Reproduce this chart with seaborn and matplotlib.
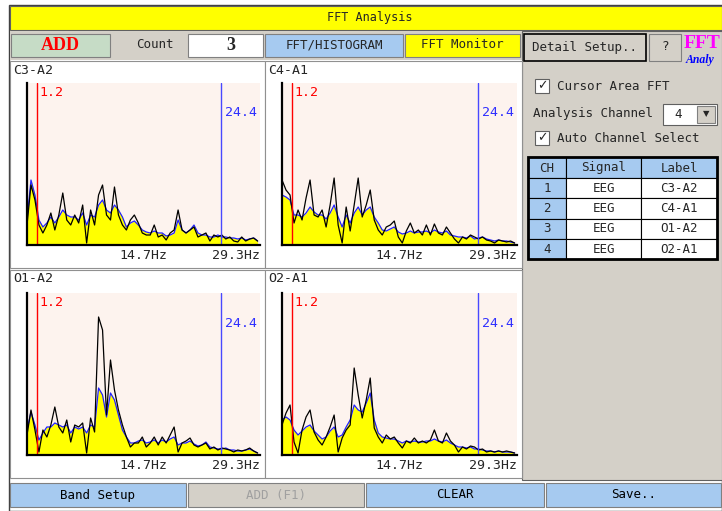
import numpy as np
import matplotlib.pyplot as plt
import seaborn as sns
from matplotlib.patches import Rectangle

# Frequency bins (Hz) shared by every spectrum
freq = np.arange(0, 29.01, 0.5)

# Spectrum heights (screen units, 0-162): current (black) and average (blue)
c3_black = [20, 60, 45, 20, 12, 20, 32, 15, 30, 52, 25, 20, 30, 22, 40, 2, 35, 20, 50, 60,
            30, 25, 58, 30, 20, 15, 25, 30, 22, 12, 10, 10, 20, 8, 10, 5, 12, 15, 35, 15,
            12, 15, 18, 8, 10, 12, 4, 10, 8, 10, 6, 8, 4, 3, 8, 4, 6, 7, 4]
c3_blue = [25, 65, 50, 25, 18, 22, 28, 22, 28, 35, 30, 28, 28, 25, 32, 20, 30, 28, 40, 45,
           35, 32, 40, 35, 28, 18, 22, 24, 20, 15, 13, 12, 14, 12, 12, 9, 10, 12, 25, 15,
           12, 15, 20, 12, 10, 10, 8, 8, 10, 8, 8, 7, 7, 6, 7, 5, 6, 7, 4]
c4_black = [65, 55, 50, 22, 35, 25, 47, 65, 30, 28, 35, 18, 40, 67, 20, 2, 38, 14, 40, 67,
            28, 40, 55, 25, 15, 10, 18, 20, 24, 8, 2, 14, 22, 12, 15, 10, 20, 10, 21, 12,
            10, 18, 12, 6, 2, 8, 6, 10, 8, 6, 8, 5, 4, 2, 5, 4, 3, 4, 2]
c4_blue = [50, 48, 45, 30, 30, 28, 32, 38, 33, 30, 30, 26, 32, 40, 28, 18, 30, 22, 32, 38,
           30, 35, 38, 28, 22, 15, 14, 16, 18, 13, 11, 12, 14, 12, 13, 13, 14, 12, 15, 13,
           12, 14, 10, 9, 8, 8, 7, 9, 6, 7, 8, 6, 5, 4, 5, 4, 4, 3, 2]
o1_black = [20, 45, 25, 3, 25, 18, 30, 48, 28, 22, 35, 13, 30, 28, 32, 2, 37, 23, 138, 125,
            40, 95, 65, 45, 30, 18, 8, 12, 12, 18, 8, 12, 18, 10, 18, 12, 20, 28, 3, 12,
            14, 17, 10, 8, 10, 12, 6, 8, 5, 7, 6, 5, 3, 5, 4, 5, 7, 4, 2]
o1_blue = [25, 43, 30, 15, 22, 28, 28, 32, 30, 28, 30, 22, 28, 26, 28, 22, 30, 28, 67, 60,
           38, 62, 55, 40, 25, 18, 12, 12, 14, 15, 12, 13, 15, 12, 15, 13, 16, 18, 10, 12,
           12, 14, 11, 9, 10, 13, 8, 7, 6, 6, 7, 5, 5, 4, 4, 5, 6, 4, 2]
o2_black = [30, 42, 50, 13, 2, 25, 38, 45, 23, 15, 10, 18, 28, 40, 3, 17, 25, 30, 87, 60,
            37, 55, 77, 27, 18, 12, 20, 16, 18, 12, 7, 14, 12, 17, 12, 14, 12, 15, 25, 14,
            12, 22, 14, 10, 3, 8, 6, 9, 8, 5, 6, 3, 4, 3, 4, 3, 4, 3, 2]
o2_blue = [35, 38, 35, 25, 20, 24, 28, 30, 24, 20, 16, 18, 24, 28, 18, 20, 28, 35, 50, 45,
           43, 52, 62, 35, 22, 18, 17, 16, 16, 14, 12, 14, 13, 14, 13, 13, 14, 14, 16, 14,
           13, 15, 12, 10, 8, 8, 7, 8, 6, 6, 5, 4, 4, 3, 4, 3, 3, 3, 2]

channel_labels = ['C3-A2', 'C4-A1', 'O1-A2', 'O2-A1']
channel_nums = ['1', '2', '3', '4']
channel_signals = ['EEG', 'EEG', 'EEG', 'EEG']
cursor_low, cursor_high = 1.2, 24.4
tick_freqs = [14.7, 29.3]
tick_labels = ['14.7Hz', '29.3Hz']
add_count = '3'

W, H = 722, 511
GRAY = '#d4d0c8'
LBLUE = '#a6caf0'
YEL = '#ffff00'
PINK = '#fdf3ee'

sns.set_style('white')
plt.rcParams['font.family'] = ['DejaVu Sans Mono', 'Noto Sans CJK JP']

fig = plt.figure(figsize=(W / 100, H / 100), dpi=100)
bg = fig.add_axes([0, 0, 1, 1])
bg.set_xlim(0, W)
bg.set_ylim(H, 0)
bg.axis('off')


def box(x0, y0, x1, y1, fc, ec='#808080', lw=0.8, z=1):
    bg.add_patch(Rectangle((x0, y0), x1 - x0, y1 - y0, fc=fc, ec=ec, lw=lw, zorder=z))


def label(x, y, s, size=9, ha='center', **kw):
    bg.text(x, y, s, fontsize=size, ha=ha, va='center', **kw)


# window frame + title bar
box(9, 5, 722, 511, 'white', ec='#404040', lw=1)
box(10, 6, 722, 30, YEL, ec='#606060')
label(370, 18, 'FFT Analysis', 8.5)

# control row
box(10, 31, 722, 60, GRAY, ec='none')
box(11, 34, 110, 57, '#c6dcc6')
label(60, 46, 'ADD', 13, color='red', fontweight='bold', family='Liberation Serif')
label(155, 45, 'Count', 9)
box(188, 34, 263, 57, 'white')
label(231, 46, add_count, 13, fontweight='bold', family='Liberation Serif')
box(265, 34, 403, 57, LBLUE)
label(334, 45, 'FFT/HISTOGRAM', 9)
box(405, 34, 520, 57, YEL)
label(462, 45, 'FFT Monitor', 9)

# right side panel
box(522, 31, 722, 480, GRAY, ec='#606060')
box(524, 34, 646, 61, GRAY, ec='black', lw=1.2)
label(585, 47, 'Detail Setup..', 9)
box(649, 34, 681, 61, GRAY)
label(665, 47, '?', 9)
label(684, 44, 'FFT', 14, ha='left', color='#ff00ff', fontweight='bold', family='Liberation Serif')
label(686, 60, 'Analy', 8.5, ha='left', color='#0000ff', fontweight='bold', style='italic',
      family='Liberation Serif')

for cy, txt in [(86, 'Cursor Area FFT'), (138, 'Auto Channel Select')]:
    box(535, cy - 7, 549, cy + 7, 'white', ec='#606060')
    label(542, cy, '✓', 9, fontweight='bold', family='DejaVu Sans')
    label(557, cy, txt, 9, ha='left')
label(533, 114, 'Analysis Channel', 9, ha='left')
box(663, 104, 717, 125, 'white', ec='#606060')
label(678, 114, '4', 9)
box(697, 106, 715, 123, GRAY)
label(706, 114, '▼', 6, family='DejaVu Sans')

# channel table
cols = [(528, 566, 'CH'), (566, 641, 'Signal'), (641, 717, 'Label')]
for x0, x1, name in cols:
    box(x0, 157, x1, 178, LBLUE, ec='black', lw=0.8, z=2)
    label((x0 + x1) / 2, 168, name, 9, zorder=3)
for i, (num, sig, lab) in enumerate(zip(channel_nums, channel_signals, channel_labels)):
    y0 = 178 + i * 20.3
    y1 = y0 + 20.3
    for (x0, x1, _), val, fc in zip(cols, [num, sig, lab], [LBLUE, 'white', 'white']):
        box(x0, y0, x1, y1, fc, ec='black', lw=0.8, z=2)
        label((x0 + x1) / 2, (y0 + y1) / 2, val, 9, zorder=3)
box(528, 157, 717, 259, 'none', ec='black', lw=2, z=4)

# bottom buttons
for x0, x1, txt, fc, tc in [(10, 186, 'Band Setup', LBLUE, 'black'),
                            (188, 364, 'ADD (F1)', GRAY, '#a0a0a0'),
                            (366, 544, 'CLEAR', LBLUE, 'black'),
                            (546, 721, 'Save..', LBLUE, 'black')]:
    box(x0, 483, x1, 507, fc)
    label((x0 + x1) / 2, 495, txt, 9, color=tc)

# spectrum panels
panels = [
    ((10, 61, 265, 268), (27, 83, 260, 245), c3_black, c3_blue),
    ((265, 61, 522, 268), (282, 83, 517, 245), c4_black, c4_blue),
    ((10, 270, 265, 478), (27, 293, 260, 455), o1_black, o1_blue),
    ((265, 270, 522, 478), (282, 293, 517, 455), o2_black, o2_blue),
]
for name, (frame, area, black, blue) in zip(channel_labels, panels):
    box(*frame, 'white', ec='#909090')
    label(frame[0] + 3, frame[1] + 9, name, 9.5, ha='left')
    x0, y0, x1, y1 = area
    ax = fig.add_axes([x0 / W, 1 - y1 / H, (x1 - x0) / W, (y1 - y0) / H])
    ax.set_facecolor(PINK)
    ax.fill_between(freq, blue, color=YEL, lw=0)
    sns.lineplot(x=freq, y=blue, ax=ax, color='#2020ff', lw=0.9)
    sns.lineplot(x=freq, y=black, ax=ax, color='black', lw=0.9)
    ax.axvline(cursor_low, color='red', lw=1)
    ax.axvline(cursor_high, color='#4848ff', lw=1)
    ax.text(cursor_low + 0.35, 153, f'{cursor_low}', color='red', fontsize=9.5, va='center')
    ax.text(cursor_high + 0.5, 132, f'{cursor_high}', color='#3030ff', fontsize=9.5, va='center')
    ax.set_xlim(0, 29.3)
    ax.set_ylim(0, 162)
    ax.set_yticks([])
    ax.set_xticks(tick_freqs)
    ax.set_xticklabels(tick_labels)
    ax.tick_params(axis='x', length=0, pad=3, labelsize=9.5)
    ax.get_xticklabels()[1].set_ha('right')
    ax.set_xlabel('')
    ax.set_ylabel('')
    for side in ['top', 'right']:
        ax.spines[side].set_visible(False)
    for side in ['left', 'bottom']:
        ax.spines[side].set_color('black')
        ax.spines[side].set_linewidth(1.6)

fig.savefig('out.png', dpi=100)
